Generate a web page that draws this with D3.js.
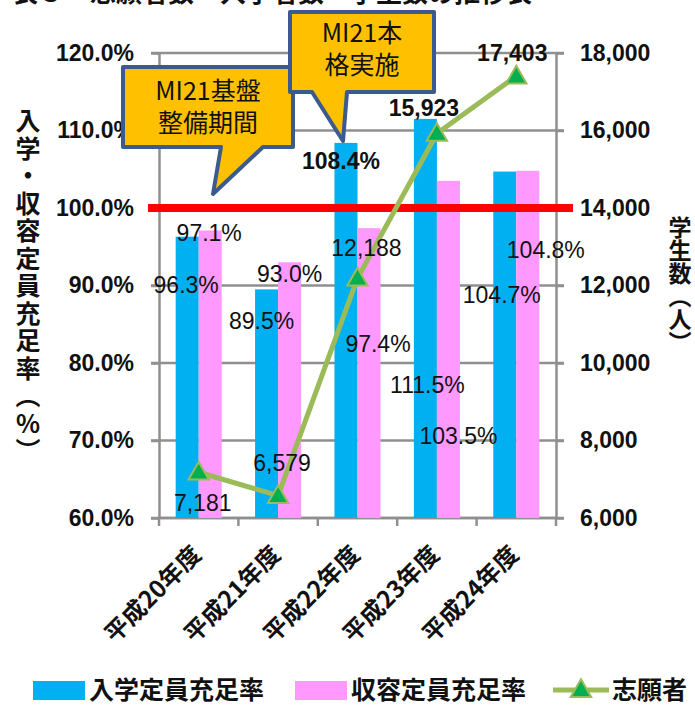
<!DOCTYPE html>
<html><head><meta charset="utf-8">
<script src="https://cdn.jsdelivr.net/npm/d3@7"></script>
<style>body{margin:0;background:#fff;overflow:hidden} svg{display:block}</style>
</head><body><svg id="c" width="695" height="710"></svg>
<script>
// ---- data ----
const categories = ["平成20年度","平成21年度","平成22年度","平成23年度","平成24年度"];
const enrollRate = [96.3, 89.5, 108.4, 111.5, 104.7];      // 入学定員充足率 (%)
const capacityRate = [97.1, 93.0, 97.4, 103.5, 104.8];     // 収容定員充足率 (%)
const applicants = [7181, 6579, 12188, 15923, 17403];      // 志願者 (人)
const leftTicks = [60, 70, 80, 90, 100, 110, 120];
const rightTicks = [6000, 8000, 10000, 12000, 14000, 16000, 18000];
const targetRate = 100;
const seriesNames = ["入学定員充足率", "収容定員充足率", "志願者"];
const calloutTexts = [["MI21基盤", "整備期間"], ["MI21本", "格実施"]];
const titleText = "表３　志願者数・入学者数・学生数の推移表";
const leftTitle = "入学・収容定員充足率（％）";
const rightTitle = "学生数（人）";

// ---- layout (label nudges relative to mark anchor) ----
const enrollNudge = [[-1, 48], [-5, 32], [-5, 18], [2, 266], [-3, 123]];
const capacityNudge = [[-1, 3], [0, 12], [9, 116], [10, 255], [18, 79]];
const applicantNudge = [[4, 31], [4, -33], [9, -30], [-13, -25], [-4, -23]];
const enrollBold = [false, false, true, false, false];
const applicantBold = [false, false, false, true, true];

const C = {blue: "#00B0F0", pink: "#FF99FF", line: "#9BBB59", marker: "#00B050",
           red: "#FF0000", grid: "#8f8f8f", callout: "#FFC000", calloutStroke: "#3B5B8F"};
const latin = "'Liberation Sans', Arial, sans-serif";
const cjk = "'Noto Sans CJK JP', 'Noto Sans', sans-serif";

const svg = d3.select("#c");
const plotL = 159, plotR = 556, plotT = 53, plotB = 518;

const x = d3.scaleBand().domain(categories).range([plotL, plotR]).paddingInner(0.42).paddingOuter(0.21);
const xi = d3.scaleBand().domain([0, 1]).range([0, x.bandwidth()]);
const yL = d3.scaleLinear().domain([60, 120]).range([plotB, plotT]);
const yR = d3.scaleLinear().domain([6000, 18000]).range([plotB, plotT]);
const step = x.step();
const cx = c => x(c) + x.bandwidth() / 2;

// title (clipped at top)
svg.append("text").attr("x", 12).attr("y", 2).attr("font-family", cjk).attr("font-weight", "bold")
  .attr("font-size", 26).attr("fill", "#111").text(titleText);

// gridlines
svg.append("g").selectAll("line").data(leftTicks).join("line")
  .attr("x1", plotL - 8).attr("x2", plotR + 8)
  .attr("y1", d => yL(d)).attr("y2", d => yL(d))
  .attr("stroke", C.grid).attr("stroke-width", 2.5);

// left axis
const axL = svg.append("g").attr("transform", `translate(${plotL},0)`)
  .call(d3.axisLeft(yL).tickValues(leftTicks).tickFormat(d => d.toFixed(1) + "%").tickSize(8).tickSizeOuter(0).tickPadding(17));
axL.select(".domain").attr("stroke", C.grid).attr("stroke-width", 2.5);
axL.selectAll(".tick line").attr("stroke", C.grid).attr("stroke-width", 2.5);
axL.selectAll("text").attr("font-family", latin).attr("font-weight", "bold").attr("font-size", 23).attr("fill", "#111");

// right axis
const axR = svg.append("g").attr("transform", `translate(${plotR},0)`)
  .call(d3.axisRight(yR).tickValues(rightTicks).tickFormat(d3.format(",")).tickSize(8).tickSizeOuter(0).tickPadding(16));
axR.select(".domain").attr("stroke", C.grid).attr("stroke-width", 2.5);
axR.selectAll(".tick line").attr("stroke", C.grid).attr("stroke-width", 2.5);
axR.selectAll("text").attr("font-family", latin).attr("font-weight", "bold").attr("font-size", 23).attr("fill", "#111");

// bottom axis line + boundary ticks
const bounds = categories.map(c => x(c) - (step - x.bandwidth()) / 2).concat([plotR]);
svg.append("line").attr("x1", plotL).attr("x2", plotR).attr("y1", plotB).attr("y2", plotB)
  .attr("stroke", C.grid).attr("stroke-width", 2.5);
svg.append("g").selectAll("line").data(bounds).join("line")
  .attr("x1", d => d).attr("x2", d => d).attr("y1", plotB).attr("y2", plotB + 8)
  .attr("stroke", C.grid).attr("stroke-width", 2.5);

// category labels
svg.append("g").selectAll("text").data(categories).join("text")
  .attr("transform", d => `translate(${cx(d) + 4},556) rotate(-45)`)
  .attr("text-anchor", "end").attr("font-family", cjk).attr("font-weight", "bold")
  .attr("font-size", 24).attr("fill", "#111").text(d => d);

// bars
const barData = categories.map((c, i) => ({c, i, e: enrollRate[i], p: capacityRate[i]}));
const groups = svg.append("g").selectAll("g").data(barData).join("g")
  .attr("transform", d => `translate(${x(d.c)},0)`);
groups.append("rect").attr("x", xi(0)).attr("width", xi.bandwidth())
  .attr("y", d => yL(d.e)).attr("height", d => plotB - yL(d.e)).attr("fill", C.blue);
groups.append("rect").attr("x", xi(1)).attr("width", xi.bandwidth())
  .attr("y", d => yL(d.p)).attr("height", d => plotB - yL(d.p)).attr("fill", C.pink);

// 100% target line
svg.append("line").attr("x1", plotL - 11).attr("x2", plotR + 17)
  .attr("y1", yL(targetRate)).attr("y2", yL(targetRate))
  .attr("stroke", C.red).attr("stroke-width", 8);

// applicants line
const lineGen = d3.line().x((d, i) => cx(categories[i])).y(d => yR(d));
svg.append("path").datum(applicants).attr("d", lineGen)
  .attr("fill", "none").attr("stroke", C.line).attr("stroke-width", 5).attr("stroke-linejoin", "round");
const tri = d3.symbol().type(d3.symbolTriangle).size(180);
svg.append("g").selectAll("path").data(applicants).join("path")
  .attr("transform", (d, i) => `translate(${cx(categories[i])},${yR(d) + 1.5})`)
  .attr("d", tri).attr("fill", C.marker).attr("stroke", C.line).attr("stroke-width", 2);

// data labels
const labG = svg.append("g").attr("font-family", latin).attr("font-size", 23).attr("fill", "#111")
  .attr("text-anchor", "middle").attr("dominant-baseline", "central");
labG.selectAll("text.e").data(barData).join("text").attr("class", "e")
  .attr("x", d => x(d.c) + xi(0) + xi.bandwidth() / 2 + enrollNudge[d.i][0])
  .attr("y", d => yL(d.e) + enrollNudge[d.i][1])
  .attr("font-weight", d => enrollBold[d.i] ? "bold" : "normal")
  .text(d => d.e.toFixed(1) + "%");
labG.selectAll("text.p").data(barData).join("text").attr("class", "p")
  .attr("x", d => x(d.c) + xi(1) + xi.bandwidth() / 2 + capacityNudge[d.i][0])
  .attr("y", d => yL(d.p) + capacityNudge[d.i][1])
  .text(d => d.p.toFixed(1) + "%");
labG.selectAll("text.a").data(applicants).join("text").attr("class", "a")
  .attr("x", (d, i) => cx(categories[i]) + applicantNudge[i][0])
  .attr("y", (d, i) => yR(d) + applicantNudge[i][1])
  .attr("font-weight", (d, i) => applicantBold[i] ? "bold" : "normal")
  .text(d => d3.format(",")(d));

// axis titles (vertical)
svg.append("text").attr("x", 28).attr("y", 108)
  .style("writing-mode", "vertical-rl").attr("font-family", cjk).attr("font-weight", "bold")
  .attr("font-size", 25).attr("letter-spacing", 2.5).attr("fill", "#111").text(leftTitle);
svg.append("text").attr("x", 680).attr("y", 216)
  .style("writing-mode", "vertical-rl").attr("font-family", cjk).attr("font-weight", "bold")
  .attr("font-size", 23).attr("fill", "#111").text(rightTitle);

// callouts
const calloutBoxes = [
  {l: 123, t: 67, r: 293, b: 147, bl: 221, br: 263, tip: [213, 194], ty: 100},
  {l: 290, t: 12, r: 434, b: 92, bl: 312, br: 347, tip: [343, 141], ty: 42}
];
calloutBoxes.forEach((o, k) => {
  const p = d3.path();
  p.moveTo(o.l, o.t); p.lineTo(o.r, o.t); p.lineTo(o.r, o.b); p.lineTo(o.br, o.b);
  p.lineTo(o.tip[0], o.tip[1]); p.lineTo(o.bl, o.b); p.lineTo(o.l, o.b); p.closePath();
  svg.append("path").attr("d", p.toString()).attr("fill", C.callout)
    .attr("stroke", C.calloutStroke).attr("stroke-width", 4).attr("stroke-linejoin", "round");
  const t = svg.append("text").attr("text-anchor", "middle")
    .attr("font-family", cjk).attr("font-size", 25).attr("fill", "#111");
  calloutTexts[k].forEach((s, j) => {
    t.append("tspan").attr("x", (o.l + o.r) / 2).attr("y", o.ty + j * 31.5).text(s);
  });
});

// legend
const lg = svg.append("g").attr("font-family", cjk).attr("font-weight", "bold").attr("font-size", 25).attr("fill", "#111");
lg.append("rect").attr("x", 33).attr("y", 681).attr("width", 52).attr("height", 19).attr("fill", C.blue);
lg.append("text").attr("x", 89).attr("y", 699).text(seriesNames[0]);
lg.append("rect").attr("x", 295).attr("y", 681).attr("width", 52).attr("height", 19).attr("fill", C.pink);
lg.append("text").attr("x", 351).attr("y", 699).text(seriesNames[1]);
lg.append("line").attr("x1", 553).attr("x2", 609).attr("y1", 690).attr("y2", 690)
  .attr("stroke", C.line).attr("stroke-width", 5);
lg.append("path").attr("transform", "translate(581,691)").attr("d", tri)
  .attr("fill", C.marker).attr("stroke", C.line).attr("stroke-width", 2);
lg.append("text").attr("x", 612).attr("y", 699).text(seriesNames[2]);
</script></body></html>
